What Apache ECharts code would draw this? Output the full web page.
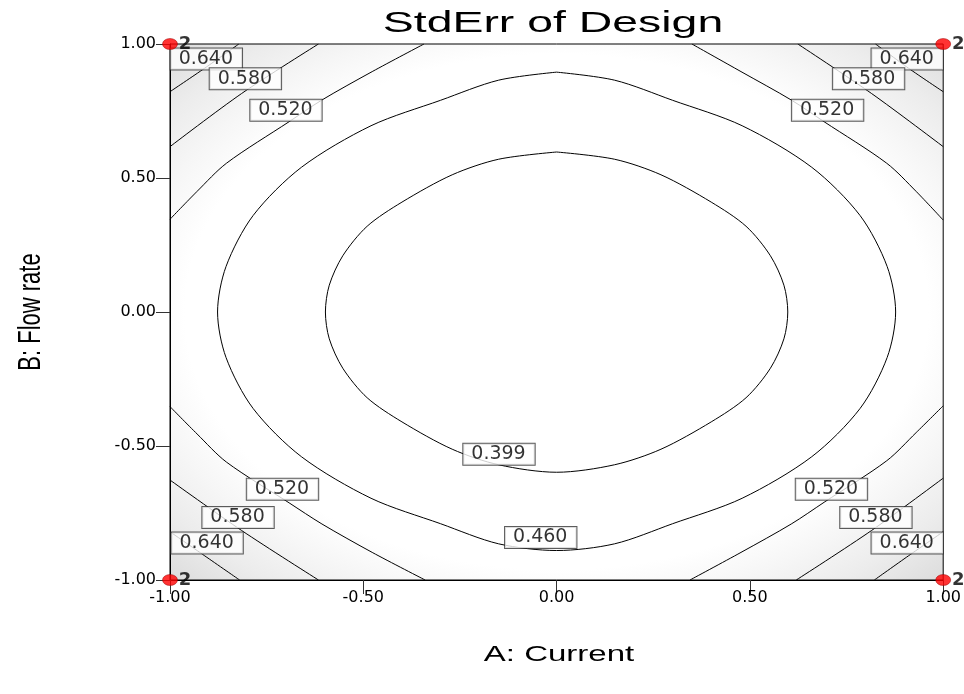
<!DOCTYPE html>
<html>
<head>
<meta charset="utf-8">
<script src="https://cdn.jsdelivr.net/npm/echarts@6/dist/echarts.min.js"></script>
<style>
html, body { margin: 0; background: #fff; }
#main { width: 964px; height: 694px; }
</style>
</head>
<body>
<div id="main"></div>
<script>
// axis ticks (coded factor levels)
var tickValues = [-1, -0.5, 0, 0.5, 1];

// contour lines, [A, B]
var contour399 = [
  [0, 0.597], [0.15, 0.57], [0.27, 0.512], [0.40, 0.41], [0.49, 0.32], [0.553, 0.21], [0.588, 0.10], [0.598, 0],
  [0.588, -0.10], [0.553, -0.21], [0.49, -0.32], [0.40, -0.41], [0.27, -0.512], [0.15, -0.57], [0, -0.598],
  [-0.15, -0.57], [-0.27, -0.512], [-0.40, -0.41], [-0.49, -0.32], [-0.553, -0.21], [-0.588, -0.10], [-0.598, 0],
  [-0.588, 0.10], [-0.553, 0.21], [-0.49, 0.32], [-0.40, 0.41], [-0.27, 0.512], [-0.15, 0.57], [0, 0.597]
];
var contour460 = [
  [0, 0.895], [0.15, 0.865], [0.30, 0.79], [0.48, 0.695], [0.66, 0.54], [0.785, 0.36], [0.855, 0.17], [0.877, 0],
  [0.855, -0.17], [0.785, -0.36], [0.66, -0.54], [0.48, -0.695], [0.30, -0.79], [0.15, -0.865], [0, -0.89],
  [-0.15, -0.865], [-0.30, -0.79], [-0.48, -0.695], [-0.66, -0.54], [-0.785, -0.36], [-0.855, -0.17], [-0.877, 0],
  [-0.855, 0.17], [-0.785, 0.36], [-0.66, 0.54], [-0.48, 0.695], [-0.30, 0.79], [-0.15, 0.865], [0, 0.895]
];
var contour520 = [
  [[-1, 0.346], [-0.93, 0.45], [-0.854, 0.555], [-0.692, 0.71], [-0.607, 0.791], [-0.477, 0.897], [-0.343, 1]],
  [[0.35, 1], [0.477, 0.897], [0.607, 0.791], [0.692, 0.71], [0.854, 0.555], [0.93, 0.45], [1, 0.343]],
  [[-1, -0.353], [-0.93, -0.455], [-0.854, -0.56], [-0.692, -0.712], [-0.607, -0.791], [-0.477, -0.897], [-0.34, -1]],
  [[0.345, -1], [0.477, -0.897], [0.607, -0.791], [0.692, -0.71], [0.854, -0.555], [0.93, -0.45], [1, -0.35]]
];
var contour580 = [
  [[-1, 0.617], [-0.815, 0.815], [-0.616, 1]],
  [[0.624, 1], [0.815, 0.815], [1, 0.617]],
  [[-1, -0.627], [-0.815, -0.815], [-0.616, -1]],
  [[0.62, -1], [0.815, -0.815], [1, -0.62]]
];
var contour640 = [
  [[-1, 0.822], [-0.91, 0.91], [-0.822, 1]],
  [[0.825, 1], [0.91, 0.91], [1, 0.822]],
  [[-1, -0.82], [-0.91, -0.91], [-0.82, -1]],
  [[0.822, -1], [0.91, -0.91], [1, -0.82]]
];

// contour label positions [A, B, text]
var contourLabels = [
  [-0.906, 0.944, '0.640'], [-0.805, 0.870, '0.580'], [-0.700, 0.753, '0.520'],
  [0.907, 0.944, '0.640'], [0.807, 0.870, '0.580'], [0.701, 0.753, '0.520'],
  [-0.709, -0.661, '0.520'], [-0.824, -0.767, '0.580'], [-0.904, -0.862, '0.640'],
  [0.711, -0.661, '0.520'], [0.826, -0.767, '0.580'], [0.907, -0.862, '0.640'],
  [-0.149, -0.531, '0.399'], [-0.041, -0.841, '0.460']
];

// design points [A, B, replicates]
var designPoints = [[-1, 1, 2], [1, 1, 2], [-1, -1, 2], [1, -1, 2]];

var chart = echarts.init(document.getElementById('main'));

function contourSeries(data) {
  return {
    type: 'line',
    data: data,
    symbol: 'none',
    smooth: 0.3,
    silent: true,
    z: 3,
    lineStyle: { color: '#000', width: 1 }
  };
}

var series = [contourSeries(contour399), contourSeries(contour460)];
[contour520, contour580, contour640].forEach(function (group) {
  group.forEach(function (arc) { series.push(contourSeries(arc)); });
});

series.push({
  type: 'scatter',
  data: contourLabels,
  symbol: 'rect',
  symbolSize: 0,
  z: 5,
  clip: false,
  silent: true,
  label: {
    show: true,
    position: 'inside',
    formatter: function (p) { return p.value[2]; },
    color: '#000',
    fontFamily: 'DejaVu Sans',
    fontSize: 19,
    lineHeight: 19,
    backgroundColor: '#fff',
    borderColor: '#333',
    borderWidth: 1,
    padding: [2, 9, 0, 8]
  }
});

series.push({
  type: 'scatter',
  data: designPoints,
  symbol: 'circle',
  symbolSize: [15, 11],
  z: 6,
  clip: false,
  silent: true,
  itemStyle: { color: '#ff0000', borderColor: '#900', borderWidth: 0.6 },
  label: {
    show: true,
    position: 'right',
    distance: 1,
    formatter: function (p) { return String(p.value[2]); },
    color: '#000',
    fontFamily: 'DejaVu Sans',
    fontWeight: 'bold',
    fontSize: 18
  }
});

function axisCommon() {
  return {
    type: 'value',
    min: -1,
    max: 1,
    interval: 0.5,
    splitLine: { show: false },
    axisLine: { show: true, onZero: false, lineStyle: { color: '#000', width: 1 } },
    axisTick: { show: true, length: 14, lineStyle: { color: '#333' } },
    axisLabel: {
      color: '#000',
      fontFamily: 'DejaVu Sans',
      fontSize: 16,
      formatter: function (v) { return v.toFixed(2); }
    }
  };
}
var xAxis = axisCommon();
xAxis.axisLabel.margin = 10;
var yAxis = axisCommon();
yAxis.axisLabel.margin = 14;

chart.setOption({
  animation: false,
  backgroundColor: '#fff',
  grid: { left: 170, right: 16, top: 44, bottom: 114, show: true, borderColor: '#000', borderWidth: 1, backgroundColor: 'transparent' },
  xAxis: xAxis,
  yAxis: yAxis,
  series: series
});

// grey shading toward the corners, drawn as an elliptical radial gradient behind the plot
var p1 = chart.convertToPixel({ gridIndex: 0 }, [-1, 1]);
var p2 = chart.convertToPixel({ gridIndex: 0 }, [1, -1]);
var side = p2[1] - p1[1];
chart.setOption({
  graphic: [
    {
      type: 'rect',
      x: p1[0], y: p1[1],
      scaleX: (p2[0] - p1[0]) / side,
      z: -10,
      silent: true,
      shape: { width: side, height: side },
      style: {
        fill: new echarts.graphic.RadialGradient(0.5, 0.5, 0.7071, [
          { offset: 0, color: '#ffffff' },
          { offset: 0.68, color: '#ffffff' },
          { offset: 0.78, color: '#f6f6f6' },
          { offset: 0.88, color: '#ececec' },
          { offset: 1, color: '#dcdcdc' }
        ])
      }
    },
    {
      type: 'text', x: 553, y: 9, scaleX: 1.6, silent: true,
      style: { text: 'StdErr of Design', font: '29px "Liberation Sans"', fill: '#000', align: 'center', textAlign: 'center', verticalAlign: 'top', textVerticalAlign: 'top' }
    },
    {
      type: 'text', x: 559, y: 644, scaleX: 1.5, silent: true,
      style: { text: 'A: Current', font: '22px "Liberation Sans"', fill: '#000', align: 'center', textAlign: 'center', verticalAlign: 'top', textVerticalAlign: 'top' }
    },
    {
      type: 'text', x: 16, y: 312, rotation: Math.PI / 2, scaleY: 1.4, silent: true,
      style: { text: 'B: Flow rate', font: '22px "Liberation Sans"', fill: '#000', align: 'center', textAlign: 'center', verticalAlign: 'top', textVerticalAlign: 'top' }
    }
  ]
});
</script>
</body>
</html>
